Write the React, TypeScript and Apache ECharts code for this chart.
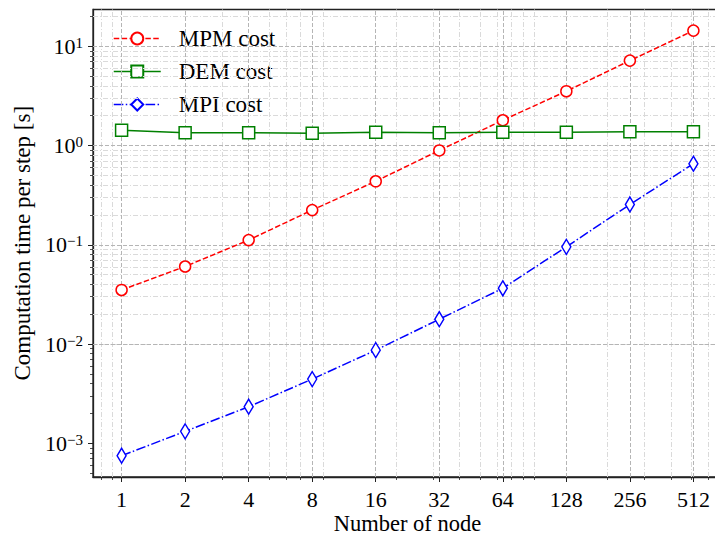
import React, { useEffect, useRef } from "react";
import * as echarts from "echarts";

const NODES = [1, 2, 4, 8, 16, 32, 64, 128, 256, 512];
const MPM_COST = [0.0351, 0.0605, 0.1117, 0.224, 0.437, 0.893, 1.8, 3.53, 7.18, 14.4];
const DEM_COST = [1.43, 1.345, 1.345, 1.33, 1.36, 1.345, 1.36, 1.36, 1.377, 1.377];
const MPI_COST = [0.00075, 0.00132, 0.00234, 0.00444, 0.00869, 0.0178, 0.0365, 0.0955, 0.255, 0.656];

const X_MAJOR = [1, 2, 4, 8, 16, 32, 64, 128, 256, 512];
const X_MINOR = [0.8, 0.9, 3, 5, 6, 7, 9, 20, 30, 40, 50, 60, 70, 80, 90, 200, 300, 400, 500, 600];
const Y_MAJOR = [0.001, 0.01, 0.1, 1, 10];
const Y_MINOR = [
  0.0005, 0.0006, 0.0007, 0.0008, 0.0009,
  0.002, 0.003, 0.004, 0.005, 0.006, 0.007, 0.008, 0.009,
  0.02, 0.03, 0.04, 0.05, 0.06, 0.07, 0.08, 0.09,
  0.2, 0.3, 0.4, 0.5, 0.6, 0.7, 0.8, 0.9,
  2, 3, 4, 5, 6, 7, 8, 9,
  20,
];

const X_MIN = 0.732;
const X_MAX = 699.4;
const Y_MIN = 0.000458;
const Y_MAX = 23.5;

const FONT = "'Liberation Serif', 'Times New Roman', serif";

export default function App() {
  const ref = useRef<HTMLDivElement>(null);

  useEffect(() => {
    if (!ref.current) return;
    const chart = echarts.init(ref.current, undefined, { renderer: "svg" });

    const pairs = (ys: number[]) => NODES.map((n, i) => [n, ys[i]]);

    const majorGrid = { color: "#b5b5b5", width: 1, type: [4, 2] as any };
    const minorGrid = { color: "#dadada", width: 1, type: [5, 2, 1, 2] as any };

    const gridLines: any[] = [];
    X_MINOR.forEach((v) => gridLines.push({ xAxis: v, lineStyle: minorGrid }));
    Y_MINOR.forEach((v) => gridLines.push({ yAxis: v, lineStyle: minorGrid }));
    X_MAJOR.forEach((v) => gridLines.push({ xAxis: v, lineStyle: majorGrid }));
    Y_MAJOR.forEach((v) => gridLines.push({ yAxis: v, lineStyle: majorGrid }));

    const supText = (v: number) => {
      const n = Math.round(Math.log10(v));
      const s = n < 0 ? "\u2212" + String(-n) : String(n);
      return `{b|10}{s|${s}}`;
    };

    const option: any = {
      animation: false,
      backgroundColor: "#fff",
      textStyle: { fontFamily: FONT },
      grid: {
        left: 93,
        top: 9.5,
        width: 629,
        height: 467.5,
        show: true,
        borderColor: "#222",
        borderWidth: 1.3,
        backgroundColor: "transparent",
        containLabel: false,
        outerBoundsMode: "none",
      },
      legend: {
        orient: "vertical",
        left: 108,
        top: 22,
        itemWidth: 47,
        itemHeight: 15,
        itemGap: 10,
        data: ["MPM cost", "DEM cost", "MPI cost"],
        textStyle: { fontFamily: FONT, fontSize: 23, color: "#000", padding: [0, 0, 0, 13] },
        lineStyle: { width: 1.5 },
        selectedMode: false,
      },
      xAxis: [
        {
          type: "log",
          logBase: 2,
          min: X_MIN,
          max: X_MAX,
          position: "bottom",
          name: "Number of node",
          nameLocation: "middle",
          nameGap: 35,
          nameMoveOverlap: false,
          nameTextStyle: { fontFamily: FONT, fontSize: 22.5, color: "#000", lineHeight: 22 },
          axisLine: { show: true, lineStyle: { color: "#222", width: 1.3 } },
          axisTick: { show: true, customValues: X_MAJOR, length: 5, lineStyle: { color: "#222", width: 1 } },
          axisLabel: {
            customValues: X_MAJOR,
            margin: 11,
            fontFamily: FONT,
            fontSize: 22,
            color: "#000",
            formatter: (v: number) => String(Math.round(v)),
          },
          splitLine: { show: false },
        },
        {
          type: "log",
          logBase: 2,
          min: X_MIN,
          max: X_MAX,
          position: "bottom",
          axisLine: { show: false },
          axisTick: { show: true, customValues: X_MINOR, length: 3, lineStyle: { color: "#222", width: 0.8 } },
          axisLabel: { show: false },
          splitLine: { show: false },
        },
      ],
      yAxis: [
        {
          type: "log",
          logBase: 10,
          min: Y_MIN,
          max: Y_MAX,
          position: "left",
          name: "Computation time per step [s]",
          nameLocation: "middle",
          nameGap: 57,
          nameTextStyle: { fontFamily: FONT, fontSize: 23, color: "#000" },
          axisLine: { show: true, lineStyle: { color: "#222", width: 1.3 } },
          axisTick: { show: true, customValues: Y_MAJOR, length: 5, lineStyle: { color: "#222", width: 1 } },
          axisLabel: {
            customValues: Y_MAJOR,
            margin: 10,
            formatter: supText,
            rich: {
              b: { fontFamily: FONT, fontSize: 22, color: "#000", lineHeight: 22, verticalAlign: "bottom", padding: [6, 0, 0, 0] },
              s: { fontFamily: FONT, fontSize: 15, color: "#000", lineHeight: 15, verticalAlign: "top" },
            },
          },
          splitLine: { show: false },
        },
        {
          type: "log",
          logBase: 10,
          min: Y_MIN,
          max: Y_MAX,
          position: "left",
          axisLine: { show: false },
          axisTick: { show: true, customValues: Y_MINOR, length: 3, lineStyle: { color: "#222", width: 0.8 } },
          axisLabel: { show: false },
          splitLine: { show: false },
        },
      ],
      series: [
        {
          name: "__grid",
          type: "line",
          xAxisIndex: 0,
          yAxisIndex: 0,
          data: [],
          z: 1,
          silent: true,
          markLine: {
            silent: true,
            symbol: ["none", "none"],
            label: { show: false },
            emphasis: { disabled: true },
            animation: false,
            data: gridLines,
          },
        },
        {
          name: "MPM cost",
          type: "line",
          xAxisIndex: 0,
          yAxisIndex: 0,
          data: pairs(MPM_COST),
          z: 5,
          color: "#ff0000",
          symbol: "circle",
          symbolSize: 11,
          showAllSymbol: true,
          lineStyle: { color: "#ff0000", width: 1.5, type: [5.5, 2.4] },
          itemStyle: { color: "#ffffff", borderColor: "#ff0000", borderWidth: 1.5 },
        },
        {
          name: "DEM cost",
          type: "line",
          xAxisIndex: 0,
          yAxisIndex: 0,
          data: pairs(DEM_COST),
          z: 5,
          color: "#008000",
          symbol: "rect",
          symbolSize: 12,
          showAllSymbol: true,
          lineStyle: { color: "#008000", width: 1.5, type: "solid" },
          itemStyle: { color: "#ffffff", borderColor: "#008000", borderWidth: 1.5 },
        },
        {
          name: "MPI cost",
          type: "line",
          xAxisIndex: 0,
          yAxisIndex: 0,
          data: pairs(MPI_COST),
          z: 5,
          color: "#0000ff",
          symbol: "diamond",
          symbolSize: [9, 15],
          showAllSymbol: true,
          lineStyle: { color: "#0000ff", width: 1.5, type: [9.6, 2.4, 1.5, 2.4] },
          itemStyle: { color: "#ffffff", borderColor: "#0000ff", borderWidth: 1.5 },
        },
      ],
    };

    chart.setOption(option);
    return () => chart.dispose();
  }, []);

  return (
    <div
      ref={ref}
      style={{ position: "fixed", left: 0, top: 0, width: 715, height: 536, background: "#fff" }}
    />
  );
}
